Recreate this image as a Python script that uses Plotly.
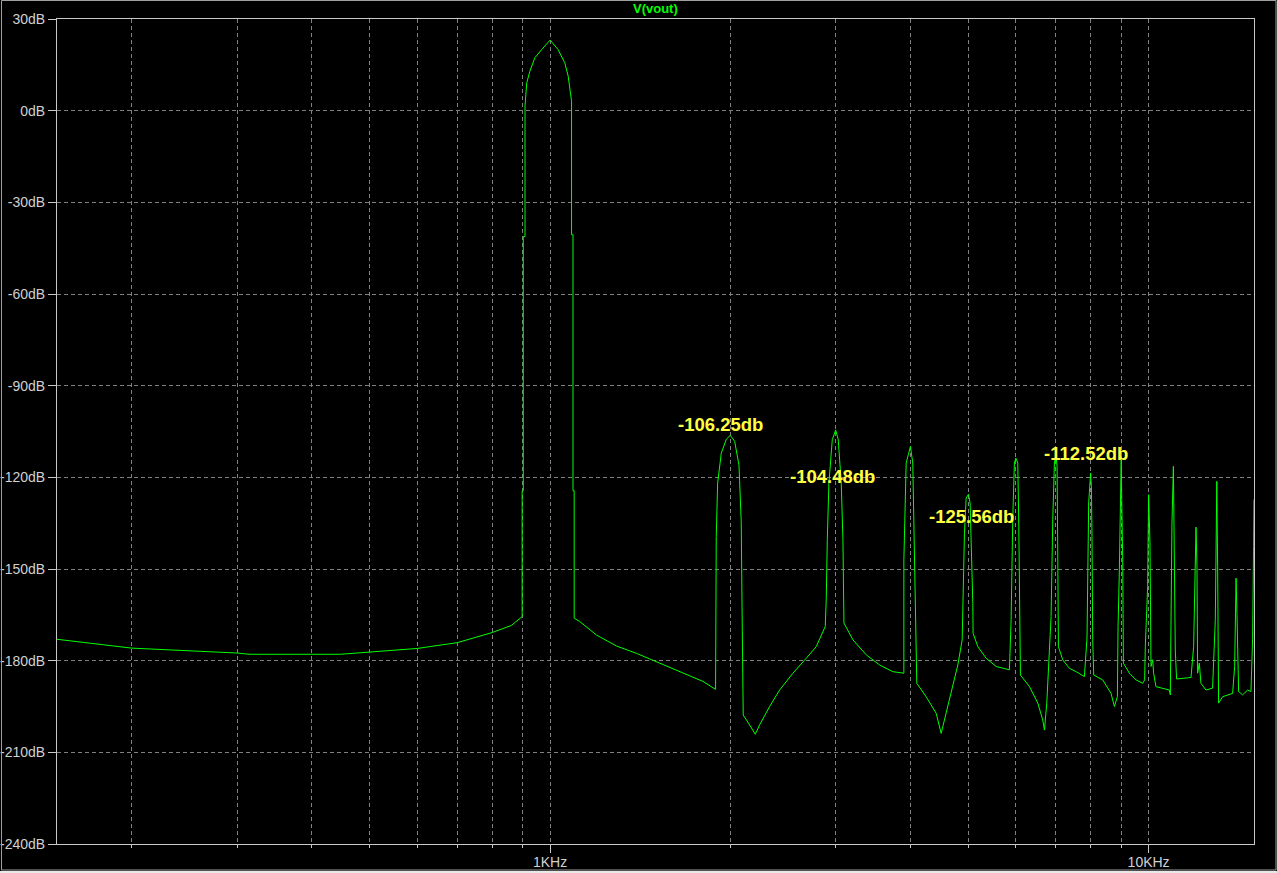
import math
import plotly.graph_objects as go

# ---------------- data ----------------
trace_name = "V(vout)"

freq_hz = [
    150, 200, 300, 314, 447, 500, 600, 700, 800, 861, 898, 898, 902, 902, 908, 908,
    914, 925, 943, 968, 1000, 1031, 1058, 1072, 1081, 1086, 1086, 1092, 1092, 1097, 1097,
    1121, 1195, 1291, 1394, 1525, 1667, 1801, 1890, 1895, 1905, 1932, 1970, 2000, 2034,
    2068, 2073, 2086, 2092, 2097, 2102, 2154, 2202, 2239, 2327, 2418, 2545, 2679, 2784,
    2882, 2893, 2905, 2923, 2961, 3000, 3030, 3065, 3085, 3097, 3206, 3375, 3552, 3739,
    3900, 3900, 3935, 4000, 4036, 4063, 4099, 4249, 4416, 4502, 4648, 4800, 4881, 4906,
    4924, 4956, 5000, 5032, 5058, 5085, 5090, 5183, 5352, 5562, 5854, 5892, 5929, 5967,
    6000, 6045, 6069, 6100, 6107, 6323, 6529, 6655, 6698, 6759, 6810, 6871, 6916, 6960,
    7000, 7032, 7050, 7068, 7186, 7372, 7565, 7811, 7890, 7910, 7941, 8000, 8025, 8044,
    8065, 8097, 8381, 8654, 8766, 8868, 8891, 8936, 8971, 9000, 9016, 9052, 9075, 9286,
    9526, 9775, 9849, 9874, 9963, 9990, 10000, 10053, 10093, 10158, 10195, 10287, 10829,
    10871, 10899, 10940, 11000, 11030, 11080, 11136, 11771, 11891, 11967, 12000, 12045,
    12075, 12153, 12230, 12469, 12791, 12925, 12958, 13000, 13042, 13090, 13293, 13815,
    13924, 13959, 14000, 14048, 14138, 14355, 14638, 14825, 14918, 14976, 15000,
]

vout_db = [
    -173.0, -175.9, -177.5, -177.9, -177.9, -177.2, -176.0, -174.1, -170.8, -168.5, -165.6, -124.4, -124.4, -41.2, -41.2, 1.7,
    9.1, 12.9, 17.3, 20.0, 23.1, 20.0, 15.7, 11.3, 6.9, 3.1, -40.6, -40.6, -124.4, -124.4, -166.1,
    -167.2, -171.6, -175.2, -177.6, -180.8, -183.9, -186.8, -189.4, -139.4, -121.9, -112.1, -107.5, -106.25, -108.2,
    -116.0, -121.0, -134.4, -160.1, -185.2, -197.8, -201.0, -204.1, -201.0, -195.0, -189.6, -184.1, -179.2, -175.4,
    -168.8, -160.1, -140.4, -121.9, -107.7, -104.48, -107.7, -121.9, -140.4, -167.7, -173.2, -178.1, -181.4, -183.6,
    -184.1, -147.0, -115.3, -109.9, -115.3, -147.0, -187.4, -191.8, -197.2, -203.8, -192.8, -181.4, -173.2, -152.5,
    -138.3, -126.8, -125.56, -128.4, -141.5, -161.2, -171.0, -175.4, -179.2, -181.9, -183.0, -166.6, -133.9, -115.3,
    -113.7, -115.3, -136.1, -166.6, -184.7, -188.5, -193.9, -199.4, -202.7, -193.9, -181.9, -165.6, -133.9, -115.3,
    -112.52, -116.4, -144.8, -175.4, -179.7, -182.5, -183.6, -185.2, -172.6, -150.3, -128.4, -118.6, -123.0, -139.4,
    -173.2, -184.7, -186.3, -190.7, -195.0, -191.8, -168.8, -150.3, -124.1, -113.2, -127.3, -147.0, -180.8, -184.1,
    -186.3, -187.4, -186.3, -175.4, -155.7, -136.1, -125.7, -141.5, -181.9, -179.7, -184.1, -188.5, -189.6,
    -191.2, -172.1, -135.0, -116.4, -139.4, -176.5, -186.0, -185.5, -175.4, -149.2, -136.3, -149.2,
    -184.1, -180.8, -187.4, -189.6, -189.0, -166.6, -138.3, -121.3, -149.2, -193.9, -191.8, -190.7,
    -181.9, -164.5, -153.0, -164.5, -190.1, -191.2, -189.6, -190.1, -173.2, -142.6, -127.3,
]

y_tick_values = [30, 0, -30, -60, -90, -120, -150, -180, -210, -240]
y_tick_labels = ["30dB", "0dB", "-30dB", "-60dB", "-90dB", "-120dB", "-150dB", "-180dB", "-210dB", "-240dB"]

x_major_ticks = [1000, 10000]
x_major_labels = ["1KHz", "10KHz"]
x_minor_ticks = [200, 300, 400, 500, 600, 700, 800, 900,
                 2000, 3000, 4000, 5000, 6000, 7000, 8000, 9000]

peak_labels = ["-106.25db", "-104.48db", "-125.56db", "-112.52db"]
peak_label_freq = [1925, 2965, 5058, 7864]
peak_label_db = [-102.6, -119.6, -132.7, -112.2]

x_range_hz = [150, 15000]
y_range_db = [-240, 30]

# ---------------- styling ----------------
W, H = 1277, 873
ML, MR, MT, MB = 57, 23, 19, 29
PW, PH = W - ML - MR, H - MT - MB

GREEN = "#00ff00"
GRID = "#808080"
FRAME = "#c8c8c8"
LABEL = "#d0d0d0"
YELLOW = "#ffff40"
FONT = "Liberation Sans, Arial, sans-serif"

fig = go.Figure()
fig.add_trace(go.Scatter(
    x=freq_hz, y=vout_db, mode="lines", name=trace_name,
    line=dict(color=GREEN, width=1), hoverinfo="skip",
))

for txt, f, db in zip(peak_labels, peak_label_freq, peak_label_db):
    fig.add_annotation(
        x=math.log10(f), y=db, xref="x", yref="y", text="<b>%s</b>" % txt,
        showarrow=False, font=dict(family=FONT, size=18.5, color=YELLOW),
        xanchor="center", yanchor="middle",
    )

# title of the trace
fig.add_annotation(
    x=0.5, y=1.0, xref="paper", yref="paper", text=trace_name, showarrow=False,
    font=dict(family=FONT, size=13, color=GREEN, weight=600), xanchor="center",
    yanchor="bottom", yshift=1,
)

def px_x(p):
    return (p - ML) / PW

def px_y(p):
    return (H - MB - p) / PH

# outer window frame
fig.add_shape(type="rect", xref="paper", yref="paper",
              x0=px_x(1.5), x1=px_x(1276), y0=px_y(870), y1=px_y(0.5),
              line=dict(color="#a0a0a0", width=1), fillcolor="rgba(0,0,0,0)", layer="above")
fig.add_shape(type="rect", xref="paper", yref="paper",
              x0=px_x(0), x1=px_x(1277), y0=px_y(873), y1=px_y(871),
              line=dict(width=0), fillcolor="#e8e8e8", layer="above")

fig.update_layout(
    width=W, height=H,
    margin=dict(l=ML, r=MR, t=MT, b=MB, pad=0, autoexpand=False),
    paper_bgcolor="black", plot_bgcolor="black",
    showlegend=False,
    font=dict(family=FONT, color=LABEL),
)

fig.update_xaxes(
    type="log", range=[math.log10(x_range_hz[0]), math.log10(x_range_hz[1])],
    automargin=False,
    tickmode="array", tickvals=x_major_ticks, ticktext=x_major_labels,
    ticks="outside", ticklen=8, tickcolor=FRAME, tickwidth=1,
    tickfont=dict(family=FONT, size=14, color=LABEL), ticklabelstandoff=-3,
    showgrid=True, gridcolor=GRID, gridwidth=1, griddash="4px,3px",
    minor=dict(tickmode="array", tickvals=x_minor_ticks, ticks="outside", ticklen=3,
               tickcolor=FRAME, showgrid=True, gridcolor=GRID, gridwidth=1,
               griddash="4px,3px"),
    showline=True, linecolor=FRAME, linewidth=1, mirror=True,
    zeroline=False, fixedrange=True,
)
fig.update_yaxes(
    range=y_range_db, automargin=False,
    tickmode="array", tickvals=y_tick_values, ticktext=y_tick_labels,
    ticks="outside", ticklen=8, tickcolor=FRAME, tickwidth=1,
    tickfont=dict(family=FONT, size=14, color=LABEL),
    showgrid=True, gridcolor=GRID, gridwidth=1, griddash="4px,3px",
    showline=True, linecolor=FRAME, linewidth=1, mirror=True,
    zeroline=False, fixedrange=True,
)

fig.write_html(
    "out.html",
    config={"displayModeBar": False, "staticPlot": True},
    post_script="document.body.style.margin='0';document.body.style.background='black';",
)
